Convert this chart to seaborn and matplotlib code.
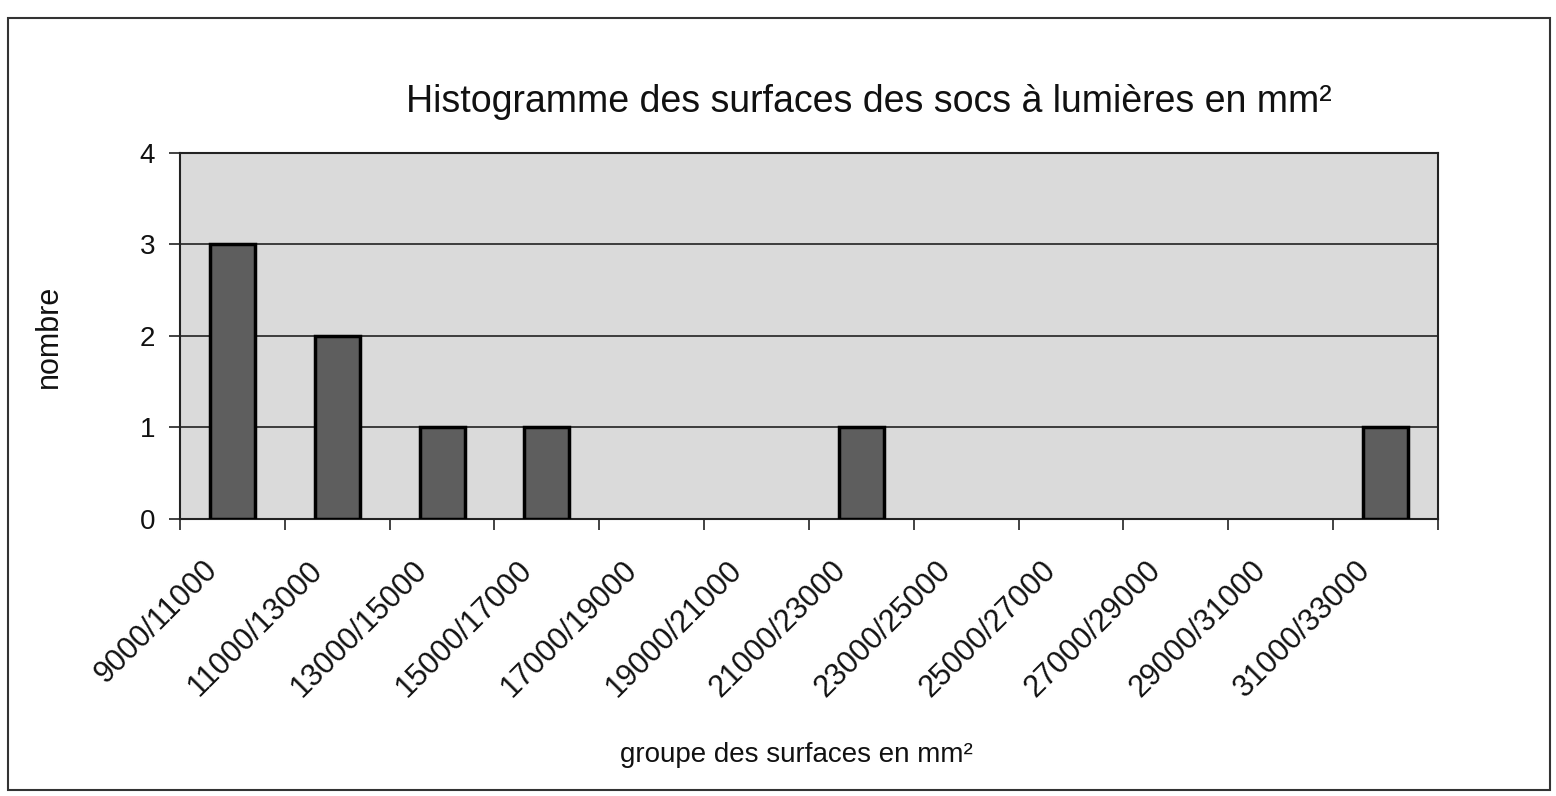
import matplotlib
matplotlib.use("Agg")
import matplotlib.pyplot as plt
import matplotlib.patches as patches
import matplotlib.transforms as mtransforms
import seaborn as sns
import pandas as pd

groupes = ["9000/11000", "11000/13000", "13000/15000", "15000/17000",
           "17000/19000", "19000/21000", "21000/23000", "23000/25000",
           "25000/27000", "27000/29000", "29000/31000", "31000/33000"]
nombre = [3, 2, 1, 1, 0, 0, 1, 0, 0, 0, 0, 1]

df = pd.DataFrame({"groupe": groupes, "nombre": nombre})

sns.set_style("white")
plt.rcParams['font.family'] = ['Liberation Sans', 'DejaVu Sans']
plt.rcParams['text.color'] = '#111111'
plt.rcParams['axes.labelcolor'] = '#111111'
plt.rcParams['xtick.color'] = '#111111'
plt.rcParams['ytick.color'] = '#111111'

fig = plt.figure(figsize=(15.56, 7.96), dpi=100)
ax = fig.add_axes([0.1157, 0.348, 0.8083, 0.46])
ax.set_facecolor("#dadada")

sns.barplot(data=df, x="groupe", y="nombre", color="#5e5e5e", width=0.43,
            edgecolor="black", linewidth=2.5, saturation=1, ax=ax, zorder=3)
# empty classes: no outline drawn
for p in ax.patches:
    if p.get_height() == 0:
        p.set_visible(False)

ax.set_xlim(-0.5, len(groupes) - 0.5)
ax.set_ylim(0, 4)
ax.set_yticks([0, 1, 2, 3, 4])
ax.yaxis.grid(True, color="#222222", linewidth=1.2, zorder=0)
ax.set_axisbelow(True)

for s in ax.spines.values():
    s.set_color("#222222")
    s.set_linewidth(1.5)

# ticks between categories, as in the original
ax.set_xticks([i - 0.5 for i in range(len(groupes) + 1)], minor=True)
ax.tick_params(axis="x", which="minor", length=8, width=1.2, color="#222222", direction="out", bottom=True)
ax.tick_params(axis="x", which="major", length=0, pad=26)
ax.tick_params(axis="y", length=8, width=1.2, color="#222222", direction="out", left=True, labelsize=20, pad=10)
ax.set_xticks(range(len(groupes)))
ax.set_xticklabels(groupes, rotation=45, ha="right", rotation_mode="anchor", fontsize=22)
for lab in ax.get_xticklabels():
    lab.set_transform(lab.get_transform() + mtransforms.ScaledTranslation(-0.3, 0, fig.dpi_scale_trans))

ax.set_xlabel("groupe des surfaces en mm²", fontsize=20)
ax.set_ylabel("nombre", fontsize=22)
ax.xaxis.set_label_coords(0.49, -0.61)
ax.yaxis.set_label_coords(-0.092, 0.5)
fig.text(0.5585, 0.872, "Histogramme des surfaces des socs à lumières en mm²",
         ha="center", va="center", fontsize=27)

fig.patches.append(patches.Rectangle((8 / 1556, 6 / 796), 1542 / 1556, 772 / 796,
                                     transform=fig.transFigure, fill=False,
                                     edgecolor="#333333", linewidth=1.5))

fig.savefig("out.png", dpi=100)
